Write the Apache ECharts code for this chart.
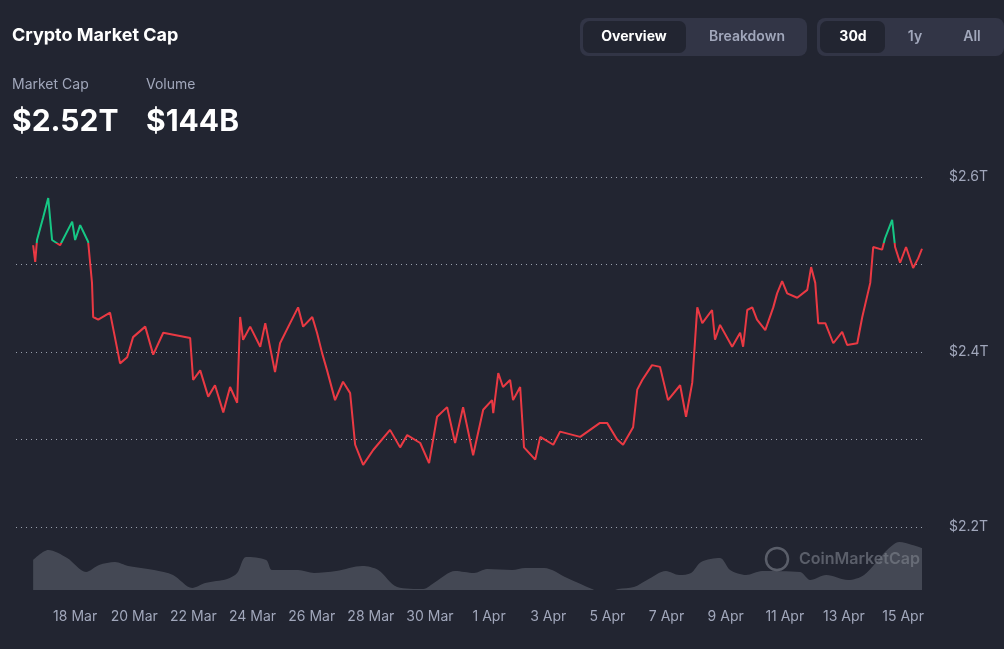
<!DOCTYPE html>
<html>
<head>
<meta charset="utf-8">
<script src="https://cdn.jsdelivr.net/npm/echarts@6/dist/echarts.min.js"></script>
<style>
  html, body { margin: 0; padding: 0; background: #222531; }
  #chart { width: 1004px; height: 649px; }
</style>
</head>
<body>
<div id="chart"></div>
<script>
// days since 16 Mar 00:00, market cap in trillions USD
var capDays = [0.58,0.65,0.71,0.92,1.09,1.22,1.49,1.90,2.00,2.17,2.44,2.57,2.61,2.78,3.18,3.52,3.76,3.96,4.37,4.64,4.98,5.89,5.99,6.23,6.50,6.73,7.01,7.24,7.48,7.58,7.68,7.92,8.26,8.43,8.76,8.93,9.27,9.54,9.71,10.02,10.18,10.35,10.52,10.79,11.06,11.30,11.47,11.74,12.08,12.65,12.99,13.23,13.67,13.97,14.24,14.58,14.85,15.12,15.46,15.80,16.10,16.14,16.31,16.47,16.71,16.81,17.05,17.18,17.56,17.73,18.17,18.40,19.08,19.75,19.99,20.33,20.53,20.87,21.01,21.18,21.51,21.78,22.05,22.46,22.66,22.87,23.04,23.21,23.54,23.64,23.81,24.22,24.49,24.59,24.73,24.90,25.06,25.34,25.61,25.74,25.91,26.08,26.42,26.76,26.89,27.03,27.13,27.37,27.64,27.94,28.11,28.45,28.62,28.89,28.99,29.29,29.39,29.63,29.73,29.90,30.10,30.34,30.51,30.64];
var capValues = [2.522,2.503,2.528,2.554,2.576,2.528,2.522,2.549,2.528,2.545,2.526,2.479,2.440,2.437,2.445,2.387,2.394,2.417,2.429,2.397,2.422,2.416,2.368,2.379,2.349,2.362,2.331,2.360,2.342,2.440,2.414,2.429,2.406,2.433,2.377,2.410,2.433,2.451,2.429,2.440,2.422,2.399,2.379,2.345,2.366,2.353,2.294,2.271,2.288,2.311,2.291,2.305,2.296,2.273,2.326,2.337,2.296,2.337,2.282,2.334,2.345,2.330,2.376,2.360,2.368,2.345,2.360,2.291,2.277,2.303,2.294,2.309,2.303,2.319,2.319,2.300,2.294,2.314,2.357,2.368,2.385,2.383,2.345,2.362,2.326,2.365,2.451,2.433,2.448,2.414,2.431,2.406,2.422,2.406,2.448,2.451,2.437,2.425,2.451,2.467,2.481,2.467,2.462,2.471,2.497,2.479,2.433,2.433,2.410,2.423,2.408,2.410,2.440,2.479,2.520,2.517,2.530,2.551,2.520,2.502,2.520,2.496,2.507,2.518];

// volume, relative units
var volDays = [0.58,1.09,1.73,2.37,2.81,3.35,3.79,4.67,5.31,5.96,6.40,7.14,7.48,7.78,8.46,8.66,9.54,10.08,10.83,11.71,12.25,12.89,13.77,14.18,14.85,15.49,15.93,16.78,17.22,17.86,18.64,19.48,19.59,20.26,20.36,20.90,21.34,21.98,22.43,22.83,23.17,23.81,24.15,24.69,25.23,26.52,26.86,27.40,28.14,28.68,29.46,29.87,30.31,30.64];
var volValues = [30,40,32,18,25,28,24,20,15,2,7,11,17,33,30,20,20,17,19,24,20,3,1,8,19,17,21,20,22,22,12,1,0,0,1,3,10,19,15,17,28,32,20,15,19,18,10,15,10,15,40,48,45,42];

var capTicks = [2.2, 2.4, 2.6];
var greenAbove = 2.525;

function zip(a, b) {
    var out = [];
    for (var i = 0; i < a.length; i++) out.push([a[i], b[i]]);
    return out;
}
function dayLabel(d) {
    if (d < 1) return '';
    var n = 16 + Math.round(d);
    return n > 31 ? (n - 31) + ' Apr' : n + ' Mar';
}

var myChart = echarts.init(document.getElementById('chart'));
var font = 'Inter, "Noto Sans", sans-serif';

var option = {
    backgroundColor: '#222531',
    animation: false,
    textStyle: { fontFamily: font },
    grid: [
        { left: 16, right: 82, top: 177, height: 350 },
        { left: 16, right: 82, top: 540, height: 50 }
    ],
    xAxis: [
        { gridIndex: 0, type: 'value', min: 0, max: 30.64, interval: 2,
          axisLine: { show: false }, axisTick: { show: false },
          axisLabel: { show: false }, splitLine: { show: false } },
        { gridIndex: 1, type: 'value', min: 0, max: 30.64, interval: 2,
          axisLine: { show: false }, axisTick: { show: false }, splitLine: { show: false },
          axisLabel: { formatter: dayLabel, color: '#a1a7bb', showMaxLabel: false,
                       fontSize: 14, margin: 20, fontFamily: font } }
    ],
    yAxis: [
        { gridIndex: 0, type: 'value', position: 'right', min: 2.2, max: 2.6, interval: 0.1,
          axisLine: { show: false }, axisTick: { show: false },
          axisLabel: { color: '#a1a7bb', fontSize: 14, margin: 27, fontFamily: font,
                       formatter: function (v) {
                           for (var i = 0; i < capTicks.length; i++)
                               if (Math.abs(v - capTicks[i]) < 1e-6) return '$' + capTicks[i].toFixed(1) + 'T';
                           return '';
                       } },
          splitLine: { lineStyle: { color: '#9aa0ad', type: [1, 4], width: 1 } } },
        { gridIndex: 1, type: 'value', min: 0, max: 50, show: false }
    ],
    series: [
        { type: 'line', xAxisIndex: 0, yAxisIndex: 0, data: zip(capDays, capValues),
          showSymbol: false, lineStyle: { width: 2, color: '#ea3943' } },
        { type: 'line', xAxisIndex: 1, yAxisIndex: 1, data: zip(volDays, volValues),
          showSymbol: false, smooth: 0.3, lineStyle: { width: 0 },
          itemStyle: { color: '#6b6f7b' },
          areaStyle: { color: 'rgba(125,129,141,0.55)' } }
    ],
    graphic: [
        { type: 'text', left: 12, top: 27, style: { text: 'Crypto Market Cap', fill: '#ffffff', font: 'bold 18px ' + font } },
        { type: 'text', left: 12, top: 78, style: { text: 'Market Cap', fill: '#a1a7bb', font: '14px ' + font } },
        { type: 'text', left: 146, top: 78, style: { text: 'Volume', fill: '#a1a7bb', font: '14px ' + font } },
        { type: 'text', left: 12, top: 107, style: { text: '$2.52T', fill: '#ffffff', font: 'bold 30px ' + font } },
        { type: 'text', left: 146, top: 107, style: { text: '$144B', fill: '#ffffff', font: 'bold 30px ' + font } },
        { type: 'rect', shape: { x: 580, y: 18, width: 227, height: 38, r: 8 }, style: { fill: '#323546' } },
        { type: 'rect', shape: { x: 583, y: 21, width: 103, height: 32, r: 7 }, style: { fill: '#222531' } },
        { type: 'text', x: 634, y: 37, style: { text: 'Overview', fill: '#ffffff', font: 'bold 14px ' + font, align: 'center', verticalAlign: 'middle' } },
        { type: 'text', x: 747, y: 37, style: { text: 'Breakdown', fill: '#a1a7bb', font: '600 14px ' + font, align: 'center', verticalAlign: 'middle' } },
        { type: 'rect', shape: { x: 817, y: 18, width: 187, height: 38, r: 8 }, style: { fill: '#323546' } },
        { type: 'rect', shape: { x: 820, y: 21, width: 65, height: 32, r: 7 }, style: { fill: '#222531' } },
        { type: 'text', x: 853, y: 37, style: { text: '30d', fill: '#ffffff', font: 'bold 14px ' + font, align: 'center', verticalAlign: 'middle' } },
        { type: 'text', x: 915, y: 37, style: { text: '1y', fill: '#a1a7bb', font: '600 14px ' + font, align: 'center', verticalAlign: 'middle' } },
        { type: 'text', x: 972, y: 37, style: { text: 'All', fill: '#a1a7bb', font: '600 14px ' + font, align: 'center', verticalAlign: 'middle' } },
        { type: 'circle', shape: { cx: 777, cy: 559, r: 11 }, style: { fill: 'none', stroke: 'rgba(160,164,176,0.45)', lineWidth: 2.5 } },
        { type: 'text', x: 799, y: 559, style: { text: 'CoinMarketCap', fill: 'rgba(160,164,176,0.45)', font: '600 16px ' + font, verticalAlign: 'middle' } }
    ]
};

myChart.setOption(option);

/* green above the threshold, red below: global gradient with a hard stop */
var cutY = myChart.convertToPixel({ yAxisIndex: 0 }, greenAbove);
var topY = myChart.convertToPixel({ yAxisIndex: 0 }, 2.6);
var bottomY = myChart.convertToPixel({ yAxisIndex: 0 }, 2.2);
var off = (cutY - topY) / (bottomY - topY);
myChart.setOption({
    series: [{
        lineStyle: {
            color: {
                type: 'linear', x: 0, y: topY, x2: 0, y2: bottomY, global: true,
                colorStops: [
                    { offset: 0, color: '#16c784' }, { offset: off, color: '#16c784' },
                    { offset: off, color: '#ea3943' }, { offset: 1, color: '#ea3943' }
                ]
            }
        }
    }]
});
</script>
</body>
</html>
